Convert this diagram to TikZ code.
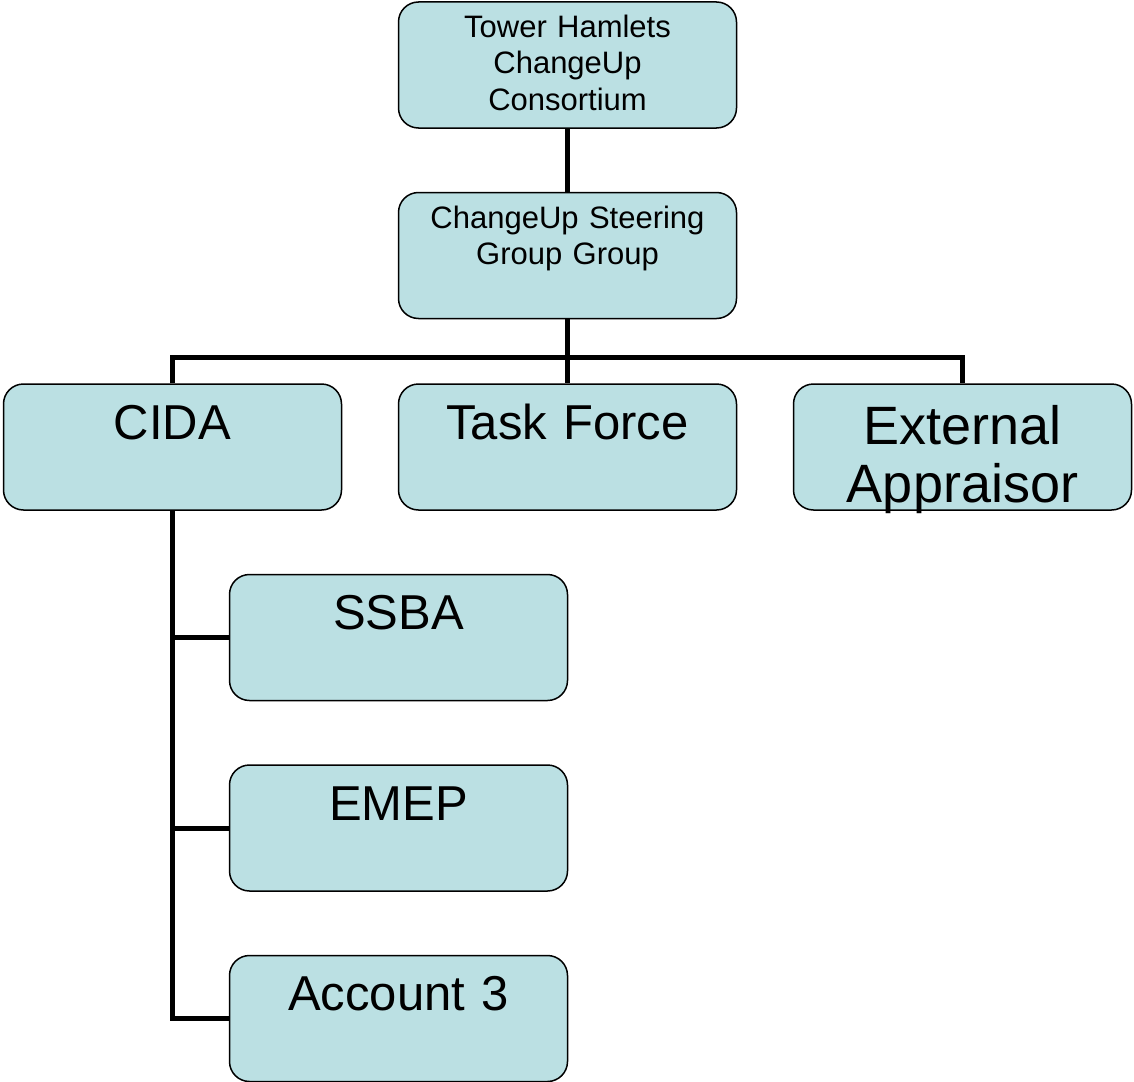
\documentclass[tikz,border=0pt]{standalone}
\usepackage{fontspec}
\setmainfont{Liberation Sans}
\usepackage{tikz}
\usetikzlibrary{positioning, calc}
\definecolor{myblue}{RGB}{187,224,227}
\tikzset{
  block/.style={rectangle, draw=black, fill=myblue, line width=0.75pt,
    rounded corners=10pt, inner sep=0pt, minimum width=169pt,
    text width=165pt, align=center},
  smallblock/.style={block, font=\fontsize{15.5}{18.25}\selectfont,
    text height=17.75pt, text depth=45.25pt},
  bigblock/.style={block, font=\fontsize{24.5}{29}\selectfont,
    text height=27.5pt, text depth=35.5pt},
  hugeblock/.style={block, font=\fontsize{27}{29}\selectfont,
    text height=30pt, text depth=33pt},
  line/.style={line width=2.5pt, color=black}
}
\begin{document}
\begin{tikzpicture}[node distance=31.5pt]
  \useasboundingbox (0,0) rectangle (567pt,-540.5pt);
  \node [smallblock] (consortium) at (283.75pt,-32.5pt) {Tower Hamlets\\ChangeUp\\Consortium};
  \node [smallblock, below=of consortium] (steering) {ChangeUp Steering\\Group Group};
  \node [bigblock, below=32pt of steering] (task) {Task Force};
  \node [bigblock, left=27.75pt of task] (cida) {CIDA};
  \node [hugeblock, right=27.75pt of task] (appraisor) {External\\Appraisor};
  \node [bigblock, below=of cida, xshift=113pt] (ssba) {SSBA};
  \node [bigblock, below=of ssba] (emep) {EMEP};
  \node [bigblock, below=of emep] (account) {Account 3};

  % connectors
  \coordinate (bus) at ($(steering.south)!0.6!(task.north)$);
  \draw [line] (consortium) -- (steering);
  \draw [line] (steering) -- (task);
  \draw [line] (cida.north) |- (bus) -| (appraisor.north);
  \draw [line] (cida.south) |- (ssba.west);
  \draw [line] (cida.south) |- (emep.west);
  \draw [line] (cida.south) |- (account.west);
\end{tikzpicture}
\end{document}
